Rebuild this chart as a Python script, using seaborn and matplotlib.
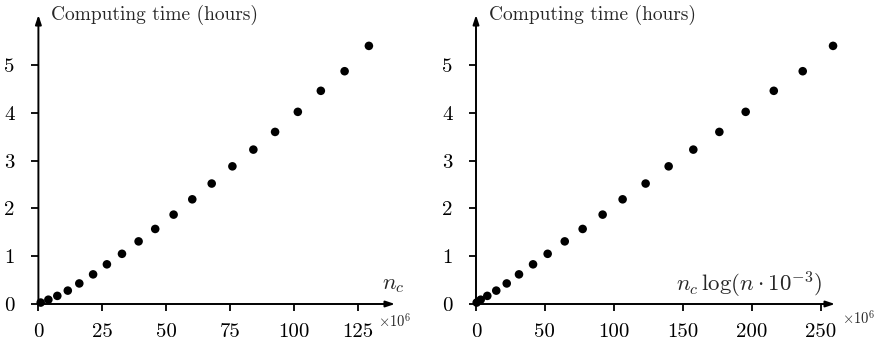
import matplotlib
matplotlib.use("Agg")
import matplotlib.pyplot as plt
import seaborn as sns
import pandas as pd

# data (x in units of 1e6)
nc = [0.9, 3.9, 7.4, 11.5, 16.0, 21.4, 26.8, 32.7, 39.2, 45.7, 52.9, 60.2,
      67.8, 75.9, 84.1, 92.6, 101.5, 110.5, 119.8, 129.3]
nc_log = [0.5, 3.4, 8.2, 14.7, 22.3, 31.2, 41.4, 52.0, 64.4, 77.4, 91.9, 106.4,
          123.1, 139.8, 157.7, 176.6, 195.7, 216.1, 237.1, 259.1]
hours = [0.03, 0.09, 0.17, 0.28, 0.43, 0.62, 0.83, 1.05, 1.31, 1.57, 1.87, 2.19,
         2.52, 2.88, 3.23, 3.60, 4.02, 4.46, 4.87, 5.40]
xticks_left = [0, 25, 50, 75, 100, 125]
xticks_right = [0, 50, 100, 150, 200, 250]
yticks = [0, 1, 2, 3, 4, 5]

sns.set_theme(style="white")
plt.rcParams["font.family"] = ["cmr10", "DejaVu Serif"]
plt.rcParams["mathtext.fontset"] = "cm"
plt.rcParams["axes.formatter.use_mathtext"] = True

df = pd.DataFrame({"nc": nc, "nclog": nc_log, "hours": hours})

fig = plt.figure(figsize=(8.85, 3.47), dpi=100)
axL = fig.add_axes([38.4 / 885, 1 - 304 / 347, (395 - 38.4) / 885, (304 - 15) / 347])
axR = fig.add_axes([476 / 885, 1 - 304 / 347, (835 - 476) / 885, (304 - 15) / 347])

panels = [
    (axL, "nc", xticks_left, (395 - 38.4) / 2.556, r"$n_c$", 1.028, 0.952, -0.059),
    (axR, "nclog", xticks_right, (835 - 476) / 1.378,
     r"$n_c\,\log(n\cdot 10^{-3})$", 0.964, 1.019, -0.048),
]

for ax, col, xt, xmax, xlab, xlab_x, mult_x, mult_y in panels:
    sns.scatterplot(data=df, x=col, y="hours", ax=ax, color="black", s=38,
                    edgecolor="none", clip_on=False, zorder=5)
    ax.set_xlim(0, xmax)
    ax.set_ylim(0, (304 - 15) / 47.8)
    ax.set_xticks(xt)
    ax.set_yticks(yticks)
    ax.set_xticklabels([str(v) for v in xt])
    ax.set_yticklabels([str(v) for v in yticks])
    ax.set_xlabel("")
    ax.set_ylabel("")
    for s in ax.spines.values():
        s.set_visible(False)
    ax.tick_params(axis="both", which="both", direction="out", length=5, width=1.3,
                   color="black", labelsize=15, labelcolor="black",
                   bottom=True, left=True)
    ax.tick_params(axis="x", pad=9)
    ax.tick_params(axis="y", pad=12)
    ax.set_facecolor("none")
    ax.grid(False)
    ax.annotate("", xy=(1, 0), xytext=(0, 0), xycoords="axes fraction",
                arrowprops=dict(arrowstyle="-|>,head_length=0.45,head_width=0.15",
                                lw=1.4, color="black", shrinkA=0, shrinkB=0))
    ax.annotate("", xy=(0, 1), xytext=(0, 0), xycoords="axes fraction",
                arrowprops=dict(arrowstyle="-|>,head_length=0.45,head_width=0.15",
                                lw=1.4, color="black", shrinkA=0, shrinkB=0))
    ax.text(0.035, 1.0, "Computing time (hours)", transform=ax.transAxes,
            fontsize=14, ha="left", va="center")
    ax.text(xlab_x, 0.066, xlab, transform=ax.transAxes, fontsize=16.5,
            ha="right", va="center")
    ax.text(mult_x, mult_y, r"$\times 10^6$", transform=ax.transAxes, fontsize=10.5,
            ha="left", va="center")

fig.savefig("out.png", dpi=100)
